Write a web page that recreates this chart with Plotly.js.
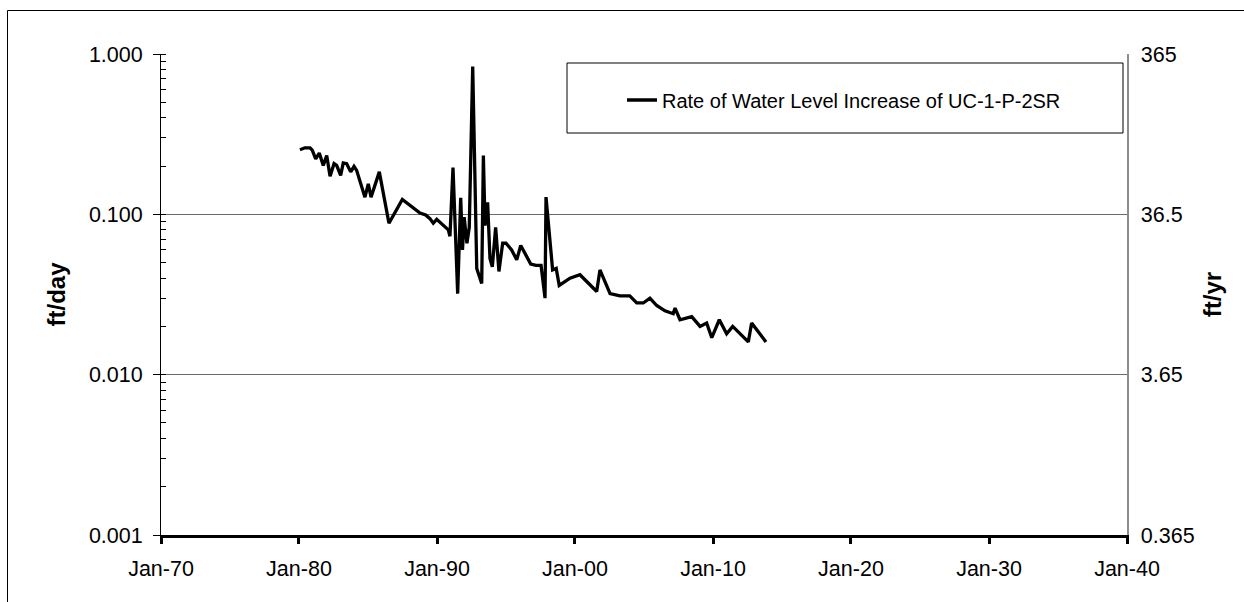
<!DOCTYPE html>
<html>
<head>
<meta charset="utf-8">
<script src="https://cdn.plot.ly/plotly-3.0.1.min.js"></script>
<style>
html,body{margin:0;padding:0;background:#fff;}
#chart{width:1244px;height:602px;}
</style>
</head>
<body>
<div id="chart"></div>
<script>
// decimal years of each measurement
const decimalYears = [1980.07,1980.43,1980.80,1980.96,1981.21,1981.47,1981.76,1982.01,1982.25,1982.54,
1982.73,1983.02,1983.21,1983.46,1983.75,1983.99,1984.18,1984.78,1985.02,1985.22,
1985.82,1986.52,1987.49,1988.77,1989.18,1989.49,1989.73,1989.98,1990.82,1990.94,
1991.16,1991.50,1991.72,1991.85,1991.97,1992.17,1992.34,1992.59,1992.88,1993.24,
1993.36,1993.48,1993.67,1993.84,1994.01,1994.25,1994.49,1994.76,1995.00,1995.41,
1995.78,1996.07,1996.79,1997.17,1997.54,1997.83,1997.90,1998.38,1998.64,1998.86,
1999.64,2000.36,2001.57,2001.81,2002.54,2003.26,2003.97,2004.47,2004.95,2005.43,
2005.92,2006.52,2007.12,2007.25,2007.61,2008.46,2009.06,2009.54,2009.91,2010.46,
2010.99,2011.43,2012.56,2012.80,2013.84];
// rate of water level increase, ft/day
const rateFtPerDay = [0.253,0.260,0.260,0.251,0.222,0.241,0.202,0.233,0.173,0.207,
0.202,0.175,0.209,0.207,0.184,0.199,0.188,0.128,0.155,0.128,
0.184,0.088,0.124,0.102,0.099,0.094,0.088,0.093,0.080,0.073,
0.196,0.032,0.127,0.060,0.096,0.066,0.083,0.836,0.046,0.037,
0.233,0.085,0.119,0.053,0.047,0.083,0.044,0.066,0.066,0.060,
0.052,0.064,0.049,0.048,0.048,0.030,0.128,0.045,0.046,0.036,
0.040,0.042,0.033,0.045,0.032,0.031,0.031,0.028,0.028,0.030,
0.027,0.025,0.024,0.026,0.022,0.023,0.020,0.021,0.017,0.022,
0.018,0.020,0.016,0.021,0.016];
const seriesName = "Rate of Water Level Increase of UC-1-P-2SR";
const leftTickVals = [0.001, 0.01, 0.1, 1];
const rightTickVals = [0.365, 3.65, 36.5, 365];
const rightTickText = ["0.365", "3.65", "36.5", "365"];
const daysPerYear = 365;

function toDate(y){
  const yr = Math.floor(y);
  const a = Date.UTC(yr,0,1), b = Date.UTC(yr+1,0,1);
  return new Date(a + (y-yr)*(b-a)).toISOString().slice(0,10);
}
const dates = decimalYears.map(toDate);
const rateFtPerYear = rateFtPerDay.map(v => v*daysPerYear);

const FONT = "Liberation Sans, Arial, sans-serif";
const TICKSIZE = 21.5;
const L = 161, R = 117, T = 54, B = 67;
const W = 1244, H = 602;
const pw = W-L-R, ph = H-T-B;
function px2x(p){ return (p-L)/pw; }
function py2y(p){ return (H-B-p)/ph; }

const trace = {
  x: dates, y: rateFtPerDay, type: 'scatter', mode: 'lines',
  name: seriesName, line: {color: '#000', width: 3.3},
  xaxis: 'x', yaxis: 'y'
};
// same series in ft/yr on the right axis (invisible, only carries that axis)
const traceYr = {
  x: dates, y: rateFtPerYear, type: 'scatter', mode: 'lines',
  name: 'ft/yr', showlegend: false, hoverinfo: 'skip',
  line: {color: 'rgba(0,0,0,0)', width: 0},
  xaxis: 'x', yaxis: 'y2'
};

const layout = {
  width: W, height: H,
  margin: {l: L, r: R, t: T, b: B, pad: 0},
  paper_bgcolor: '#fff', plot_bgcolor: '#fff',
  font: {family: FONT, size: 20, color: '#000'},
  showlegend: true,
  legend: {
    x: px2x(622), y: py2y(100), xanchor: 'left', yanchor: 'middle',
    bgcolor: 'rgba(0,0,0,0)', borderwidth: 0,
    font: {family: FONT, size: 20, color: '#000'}
  },
  xaxis: {
    type: 'date', range: ['1970-01-01', '2040-01-01'],
    tick0: '1970-01-01', dtick: 'M120', tickformat: '%b-%y',
    showgrid: false, zeroline: false,
    showline: true, linecolor: '#000', linewidth: 3,
    ticks: 'outside', ticklen: 6, tickwidth: 3, tickcolor: '#000',
    ticklabelstandoff: 6,
    tickfont: {family: FONT, size: TICKSIZE, color: '#000'},
    fixedrange: true
  },
  yaxis: {
    type: 'log', range: [-3, 0],
    tickmode: 'array', tickvals: leftTickVals, tickformat: '.3f',
    showgrid: true, gridcolor: '#6a6a6a', gridwidth: 1.3,
    zeroline: false,
    showline: true, linecolor: '#000', linewidth: 1,
    ticks: 'outside', ticklen: 7, tickwidth: 1, tickcolor: '#000',
    ticklabelstandoff: 6,
    minor: {ticks: 'inside', ticklen: 5, tickwidth: 1, tickcolor: '#000', dtick: 'D1', showgrid: false},
    tickfont: {family: FONT, size: TICKSIZE, color: '#000'},
    title: {text: '<b>ft/day</b>', font: {family: FONT, size: 24, color: '#000'}, standoff: 16},
    fixedrange: true
  },
  yaxis2: {
    type: 'log', overlaying: 'y', side: 'right', anchor: 'x',
    range: [Math.log10(0.365), Math.log10(365)],
    tickmode: 'array', tickvals: rightTickVals, ticktext: rightTickText,
    showgrid: false, zeroline: false,
    showline: true, linecolor: '#8c8c8c', linewidth: 1.5,
    ticks: '', ticklabelstandoff: 8,
    tickfont: {family: FONT, size: TICKSIZE, color: '#000'},
    title: {text: '<b>ft/yr</b>', font: {family: FONT, size: 24, color: '#000'}, standoff: 10},
    fixedrange: true
  },
  shapes: [
    // legend frame
    {type: 'rect', xref: 'paper', yref: 'paper',
     x0: px2x(567), x1: px2x(1123), y0: py2y(133), y1: py2y(63),
     line: {color: '#000', width: 1}, fillcolor: 'rgba(0,0,0,0)'},
    // outer chart frame (left and top edges visible)
    {type: 'path', xref: 'paper', yref: 'paper',
     path: 'M ' + px2x(7.5) + ' ' + py2y(610) + ' L ' + px2x(7.5) + ' ' + py2y(10.5) + ' L ' + px2x(1250) + ' ' + py2y(10.5),
     line: {color: '#000', width: 1}}
  ]
};

Plotly.newPlot('chart', [trace, traceYr], layout, {staticPlot: true, displayModeBar: false});
</script>
</body>
</html>
